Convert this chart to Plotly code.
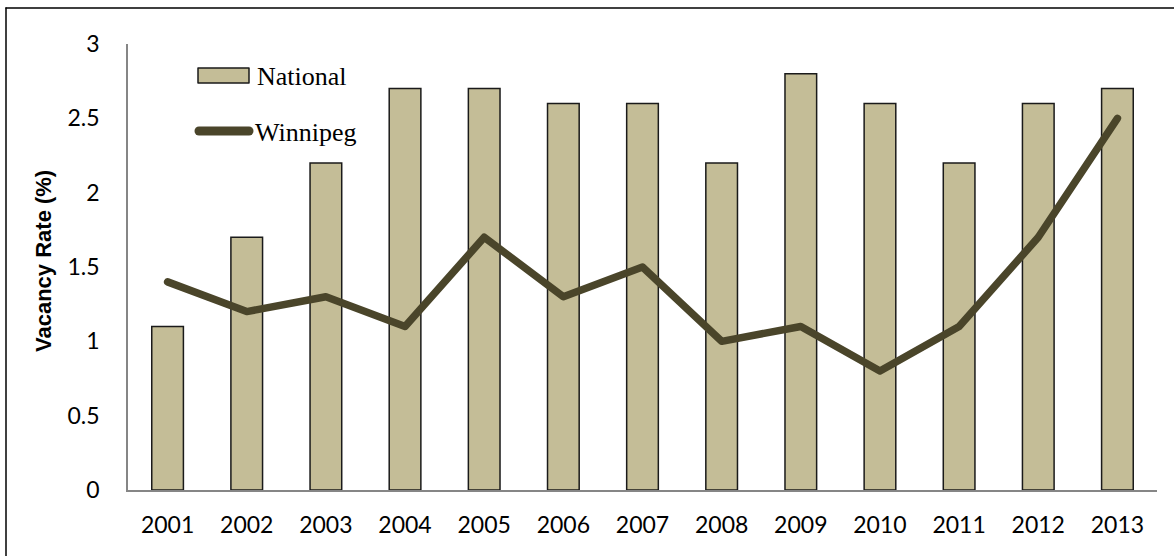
import plotly.graph_objects as go

# Rental vacancy rates, 2001-2013
years = ["2001", "2002", "2003", "2004", "2005", "2006", "2007",
         "2008", "2009", "2010", "2011", "2012", "2013"]
national = [1.1, 1.7, 2.2, 2.7, 2.7, 2.6, 2.6, 2.2, 2.8, 2.6, 2.2, 2.6, 2.7]
winnipeg = [1.4, 1.2, 1.3, 1.1, 1.7, 1.3, 1.5, 1.0, 1.1, 0.8, 1.1, 1.7, 2.5]
y_ticks = [0, 0.5, 1, 1.5, 2, 2.5, 3]

BAR_COLOR = "#C4BD97"
LINE_COLOR = "#4A452A"
AXIS_COLOR = "#868686"
TICK_FONT = dict(family="Lato, 'Open Sans', sans-serif", size=23, color="#000000")
LEGEND_FONT = dict(family="'Liberation Serif', 'DejaVu Serif', serif", size=26, color="#000000")
TITLE_FONT = dict(family="'Liberation Sans', Arial, sans-serif", size=22, color="#000000")

W, H = 1174, 556
ML, MR, MT, MB = 128, 17, 44, 66
PW, PH = W - ML - MR, H - MT - MB


def px_x(x):
    return (x - ML) / PW


def px_y(y):
    return (H - MB - y) / PH


fig = go.Figure()
fig.add_trace(go.Bar(
    x=years, y=national, name="National",
    marker=dict(color=BAR_COLOR, line=dict(color="#1a1a1a", width=1.5)),
    width=0.4, showlegend=False,
))
fig.add_trace(go.Scatter(
    x=years, y=winnipeg, name="Winnipeg", mode="lines",
    line=dict(color=LINE_COLOR, width=7.5),
    showlegend=False,
))

shapes = [
    # outer frame (top and left edges)
    dict(type="line", xref="paper", yref="paper",
         x0=px_x(6), x1=px_x(W + 5), y0=px_y(8), y1=px_y(8),
         line=dict(color="#000000", width=1.5)),
    dict(type="line", xref="paper", yref="paper",
         x0=px_x(6), x1=px_x(6), y0=px_y(8), y1=px_y(H + 5),
         line=dict(color="#000000", width=1.5)),
    # legend keys
    dict(type="rect", xref="paper", yref="paper",
         x0=px_x(198), x1=px_x(249), y0=px_y(83), y1=px_y(68),
         fillcolor=BAR_COLOR, line=dict(color="#1a1a1a", width=1.5)),
    dict(type="line", xref="paper", yref="paper",
         x0=px_x(199), x1=px_x(249), y0=px_y(131), y1=px_y(131),
         line=dict(color=LINE_COLOR, width=9)),
]

annotations = [
    dict(text="National", xref="paper", yref="paper", x=px_x(255), y=px_y(76),
         xanchor="left", yanchor="middle", showarrow=False, font=LEGEND_FONT),
    dict(text="Winnipeg", xref="paper", yref="paper", x=px_x(253), y=px_y(132),
         xanchor="left", yanchor="middle", showarrow=False, font=LEGEND_FONT),
    dict(text="<b>Vacancy Rate (%)</b>", xref="paper", yref="paper",
         x=px_x(43), y=px_y(261), textangle=-90, xanchor="center", yanchor="middle",
         showarrow=False, font=TITLE_FONT),
]

fig.update_layout(
    width=W, height=H,
    margin=dict(l=ML, r=MR, t=MT, b=MB, pad=0),
    paper_bgcolor="#FFFFFF", plot_bgcolor="#FFFFFF",
    shapes=shapes,
    annotations=annotations,
    showlegend=False,
)
fig.update_xaxes(
    type="category", showgrid=False, showline=True, linecolor=AXIS_COLOR,
    linewidth=1.5, ticks="", tickfont=TICK_FONT, ticklabelstandoff=14,
    zeroline=False,
)
fig.update_yaxes(
    range=[0, 3], tickvals=y_ticks, ticktext=[f"{v:g}" for v in y_ticks],
    showgrid=False, showline=True, linecolor=AXIS_COLOR, linewidth=1.5,
    ticks="", tickfont=TICK_FONT, ticklabelstandoff=22, zeroline=False,
)

fig.write_html(
    "out.html",
    config={"displayModeBar": False},
    post_script=(
        "document.querySelectorAll('.scatterlayer .js-line, .layer-above path')"
        ".forEach(function(p){p.style.strokeLinecap='round';"
        "p.style.strokeLinejoin='round';});"
    ),
)
